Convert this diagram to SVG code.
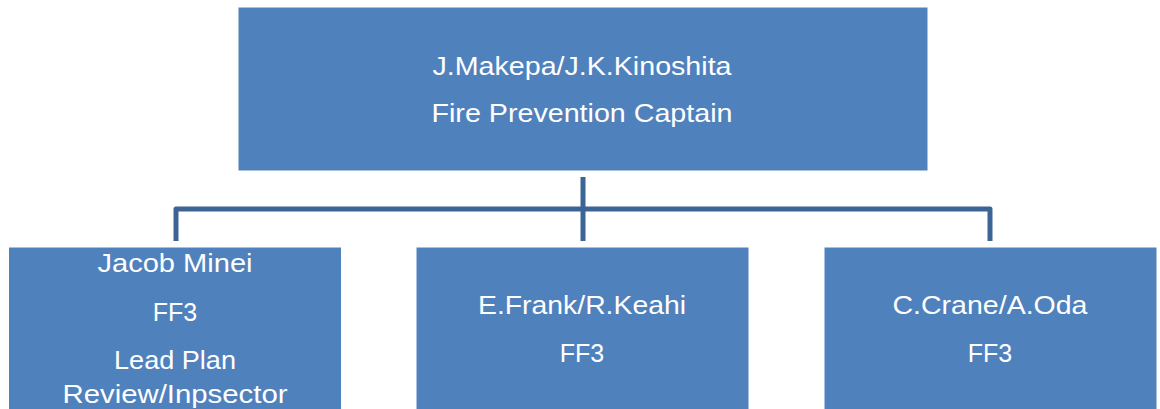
<svg xmlns="http://www.w3.org/2000/svg" width="1160" height="409" viewBox="0 0 1160 409">
<style>
.box{fill:#4F81BD;stroke:#4F81BD;stroke-width:1}
.t{font-family:"Liberation Sans",Arial,sans-serif;font-size:25px;fill:#FFFFFF;text-anchor:middle}
.c{fill:none;stroke:#3C6494;stroke-width:5;stroke-linejoin:round}
</style>
<rect width="1160" height="409" fill="#FFFFFF"/>
<g id="connectors">
<path class="c" d="M583 177 V241"/>
<path class="c" d="M176 241 V209 H990 V241"/>
</g>
<g id="captain">
<rect class="box" x="239" y="8" width="688" height="162"/>
<text class="t" x="582" y="75" textLength="299" lengthAdjust="spacingAndGlyphs">J.Makepa/J.K.Kinoshita</text>
<text class="t" x="582" y="122" textLength="301" lengthAdjust="spacingAndGlyphs">Fire Prevention Captain</text>
</g>
<g id="minei">
<rect class="box" x="9.5" y="248" width="331" height="170"/>
<text class="t" x="175" y="272" textLength="155" lengthAdjust="spacingAndGlyphs">Jacob Minei</text>
<text class="t" x="175" y="321">FF3</text>
<text class="t" x="175" y="369" textLength="122" lengthAdjust="spacingAndGlyphs">Lead Plan</text>
<text class="t" x="175" y="403" textLength="225" lengthAdjust="spacingAndGlyphs">Review/Inpsector</text>
</g>
<g id="frank">
<rect class="box" x="417" y="248" width="331" height="170"/>
<text class="t" x="582" y="314" textLength="208" lengthAdjust="spacingAndGlyphs">E.Frank/R.Keahi</text>
<text class="t" x="582" y="362">FF3</text>
</g>
<g id="crane">
<rect class="box" x="825" y="248" width="331" height="170"/>
<text class="t" x="990" y="314" textLength="195" lengthAdjust="spacingAndGlyphs">C.Crane/A.Oda</text>
<text class="t" x="990" y="362">FF3</text>
</g>
</svg>
